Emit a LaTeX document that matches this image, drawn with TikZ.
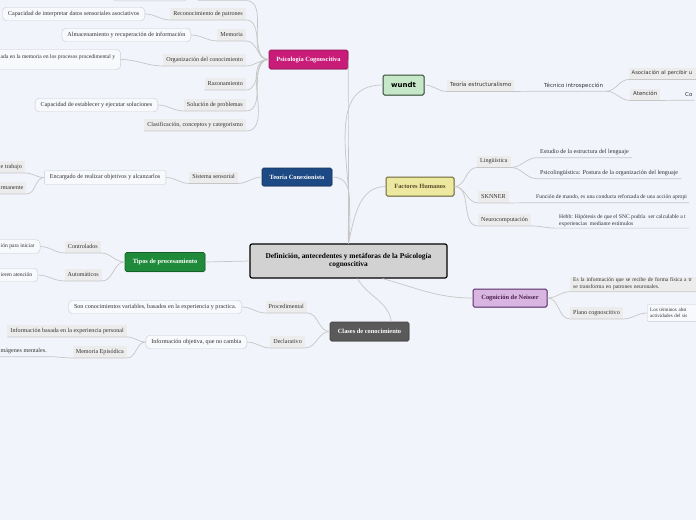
\documentclass[tikz,border=0pt]{standalone}
\usepackage{fontspec}
\setmainfont{Liberation Serif}
\newfontfamily\wsans{DejaVu Sans}
\usetikzlibrary{positioning,shadows}

\definecolor{bgcol}{HTML}{F2F4FB}
\definecolor{linecol}{HTML}{C6C6C6}
\definecolor{subcol}{HTML}{ECECEC}
\definecolor{leafcol}{HTML}{C9CCD6}
\definecolor{leaffill}{HTML}{F8F9FD}
\definecolor{txtcol}{HTML}{333333}
\definecolor{magcol}{HTML}{C91B78}
\definecolor{navycol}{HTML}{1D4A85}
\definecolor{greencol}{HTML}{1E8A3A}
\definecolor{graycol}{HTML}{5A5A5A}
\definecolor{wgreen}{HTML}{C6E7C8}
\definecolor{wborder}{HTML}{2F4A33}
\definecolor{ycol}{HTML}{EDE89F}
\definecolor{yborder}{HTML}{6A6536}
\definecolor{ytext}{HTML}{5A4A2A}
\definecolor{pcol}{HTML}{D9B5E1}
\definecolor{pborder}{HTML}{5A2D6A}
\definecolor{ptext}{HTML}{4A2050}
\definecolor{rootcol}{HTML}{D2D2D2}

\newcommand\mmfs{\fontsize{6.1}{7.1}\selectfont}
\newcommand\edgefs{\fontsize{5.6}{6.8}\selectfont}
\newcommand\topfs{\fontsize{6.4}{7.4}\selectfont\bfseries}
\newcommand\wfs{\wsans\fontsize{5.5}{6.5}\selectfont}

\begin{document}
\begin{tikzpicture}[
  x=1pt,y=-1pt,
  conn/.style={draw=linecol,line width=0.7pt},
  lft/.style={out=180,in=0},
  rgt/.style={out=0,in=180},
  root/.style={draw=black,line width=1.2pt,rounded corners=2pt,fill=rootcol,align=center,
               minimum width=197pt,minimum height=34pt,font=\fontsize{7.4}{8.4}\selectfont\bfseries},
  topic/.style={rounded corners=1.5pt,minimum height=19pt,inner xsep=4pt,line width=0.6pt,
                font=\topfs,text=white,
                drop shadow={shadow xshift=0.6pt,shadow yshift=-0.8pt,opacity=0.3}},
  sub/.style={fill=subcol,inner xsep=3pt,inner ysep=1.5pt,minimum height=11.5pt,
              text height=4.3pt,text depth=1.4pt,font=\mmfs,text=txtcol},
  leaf/.style={draw=leafcol,fill=leaffill,rounded corners=4pt,inner xsep=5.5pt,minimum height=13.5pt,
               font=\mmfs,text=txtcol},
  plain/.style={inner xsep=3pt,inner ysep=1.5pt,minimum height=11pt,font=\mmfs,text=txtcol}
]
\useasboundingbox (0,0) rectangle (696,520);
\fill[bgcol] (0,0) rectangle (696,520);

% centre
\node[root] (root) at (348.5,261) {Definición, antecedentes y metáforas de la Psicología\\cognoscitiva};

% main topics
\node[topic,fill=magcol,draw=magcol!70!black,minimum width=79pt] (psic) at (308.5,59.5) {Psicología Cognoscitiva};
\node[topic,fill=wgreen,draw=wborder,line width=1pt,text=black,minimum width=41pt,minimum height=20pt,
      font=\wsans\fontsize{7}{8}\selectfont\bfseries] (wundt) at (403.5,85) {wundt};
\node[topic,fill=navycol,draw=navycol!70!black,minimum width=70pt,minimum height=18pt] (tcon) at (297,177) {Teoría Conexionista};
\node[topic,fill=ycol,draw=yborder,line width=1pt,text=ytext,minimum width=68pt] (fact) at (420,186.5) {Factores Humanos};
\node[topic,fill=greencol,draw=greencol!70!black,minimum width=80pt] (tipos) at (165,262) {Tipos de procesamiento};
\node[topic,fill=pcol,draw=pborder,line width=1pt,text=ptext,minimum width=74pt,minimum height=18pt] (neis) at (510,298) {Cognición de Neisser};
\node[topic,fill=graycol,draw=graycol!70!black,minimum width=79pt] (clases) at (369.5,331.5) {Clases de conocimiento};

\draw[conn] (root.north) -- (psic.east);
\draw[conn] (root.north) to[out=95,in=0] (tcon.east);
\draw[conn] (root.north) to[out=82,in=180] (wundt.west);
\draw[conn] (root.north) to[out=78,in=180] (fact.west);
\draw[conn] (root.west) -- (tipos.east);
\draw[conn] ([xshift=34pt]root.south) to[out=-15,in=180] (neis.west);
\draw[conn] ([xshift=9pt]root.south) to[out=-60,in=100] ([xshift=22pt]clases.north);

% Psicologia Cognoscitiva
\node[sub,anchor=east] (recon) at (246,14) {Reconocimiento de patrones};
\node[sub,anchor=east] (memo) at (246,35) {Memoria};
\node[sub,anchor=east] (organ) at (246,60) {Organización del conocimiento};
\node[sub,anchor=east] (razon) at (246,84) {Razonamiento};
\node[sub,anchor=east] (soluc) at (246,105) {Solución de problemas};
\node[sub,anchor=east] (clasif) at (246,125) {Clasificación, conceptos y categorismo};
\node[leaf,anchor=east] (interp) at (145,14) {Capacidad de interpretar datos sensoriales asociativos};
\node[leaf,anchor=east] (almac) at (191,35) {Almacenamiento y recuperación de información};
\node[leaf,anchor=west,minimum height=20pt,align=left,font=\edgefs] (memproc) at (-5,59.5) {ada en la memoria en los procesos procedimental y\\\mbox{}};
\node[leaf,anchor=east] (establ) at (158,105) {Capacidad de establecer y ejecutar soluciones};
\coordinate (cutsub) at (246,0.6);
\coordinate (cutsubw) at (198,0.6);
\draw[conn] (psic.west) to[lft] (cutsub) -- (cutsubw);
\draw[leafcol,rounded corners=4pt] (112,-15) -- (112,0.8) -- (188,0.8) -- (188,-15);
\draw[conn] (psic.west) to[lft] (recon.south east) -- (recon.south west) to[lft] (interp.east);
\draw[conn] (psic.west) to[lft] (memo.south east) -- (memo.south west) to[lft] (almac.east);
\draw[conn] (psic.west) to[lft] (organ.south east) -- (organ.south west) to[lft] (memproc.east);
\draw[conn] (psic.west) to[lft] (razon.south east) -- (razon.south west);
\draw[conn] (psic.west) to[lft] (soluc.south east) -- (soluc.south west) to[lft] (establ.east);
\draw[conn] (psic.west) to[lft] (clasif.south east) -- (clasif.south west);

% Teoria Conexionista
\node[sub,anchor=east] (sens) at (238,177.5) {Sistema sensorial};
\node[leaf,anchor=east,rounded corners=1pt] (encar) at (166,177.5) {Encargado de realizar objetivos y alcanzarlos};
\node[sub,anchor=west] (trab) at (-2.5,167) {e trabajo};
\node[sub,anchor=west] (perm) at (-2.5,188) {rmanente};
\draw[conn] (tcon.west) to[lft] (sens.south east) -- (sens.south west) to[lft] (encar.east);
\draw[conn] (encar.west) to[lft] (trab.south east) -- (trab.south west);
\draw[conn] (encar.west) to[lft] (perm.south east) -- (perm.south west);

% Tipos de procesamiento
\node[sub,anchor=east] (contr) at (101,247) {Controlados};
\node[sub,anchor=east] (autom) at (102,275) {Automáticos};
\node[leaf,anchor=west,font=\edgefs] (inic) at (-5,246.5) {ión para iniciar};
\node[leaf,anchor=west,font=\edgefs] (atenc) at (-5,275) {ieren atención};
\draw[conn] (tipos.west) to[lft] (contr.south east) -- (contr.south west) to[lft] (inic.east);
\draw[conn] (tipos.west) to[lft] (autom.south east) -- (autom.south west) to[lft] (atenc.east);

% Clases de conocimiento
\node[sub,anchor=east] (proced) at (307,307) {Procedimental};
\node[sub,anchor=east] (declar) at (305,342) {Declarativo};
\node[leaf,anchor=east] (sonc) at (242,307) {Son conocimientos variables, basados en la experiencia y practica.};
\node[leaf,anchor=east] (infobj) at (247,342) {Información objetiva, que no cambia};
\node[sub,anchor=east] (infbas) at (127,331) {Información basada en la experiencia personal};
\node[sub,anchor=east] (memep) at (127,352) {Memoria Episódica};
\node[plain,anchor=west] (imag) at (-2.5,351) {mágenes mentales.};
\draw[conn] (clases.west) to[lft] (proced.south east) -- (proced.south west) to[lft] (sonc.east);
\draw[conn] (clases.west) to[lft] (declar.south east) -- (declar.south west) to[lft] (infobj.east);
\draw[conn] (infobj.west) to[lft] (infbas.south east) -- (infbas.south west);
\draw[conn] (infobj.west) to[lft] (memep.south east) -- (memep.south west) to[lft] (imag.south east) -- (imag.south west);

% wundt
\node[sub,font=\wfs,anchor=west] (estr) at (447,85.5) {Teoría estructuralismo};
\node[plain,font=\wfs,anchor=west] (tecn) at (541,85.5) {Técnico introspección};
\node[sub,font=\wsans\fontsize{5.2}{6.2}\selectfont,anchor=west,inner xsep=2.5pt,text width=70pt,align=left] (asoc) at (629,73.5) {Asociación al percibir u};
\node[sub,font=\wfs,anchor=west] (atenw) at (630,94.5) {Atención};
\node[plain,font=\wfs,anchor=west,inner xsep=2pt] (co) at (683,94.5) {Co};
\draw[conn] (wundt.east) to[rgt] (estr.south west) -- (estr.south east) -- (tecn.south west) -- (tecn.south east)
            to[rgt] (asoc.south west) -- (asoc.south east);
\draw[conn] (tecn.south east) to[rgt] (atenw.south west) -- (atenw.south east) -- (co.south west) -- (co.south east);

% Factores Humanos
\node[sub,anchor=west] (ling) at (477,161.5) {Lingüística};
\node[sub,anchor=west] (skn) at (478,197) {SKNNER};
\node[sub,anchor=west] (neuro) at (478,220) {Neurocomputación};
\node[plain,anchor=west] (estud) at (537,152) {Estudio de la estructura del lenguaje};
\node[plain,anchor=west] (psico) at (537,173) {Psicolingüística: Postura de la organización del lenguaje};
\node[plain,anchor=west,font=\edgefs,inner xsep=2pt] (func) at (534,197) {Función de mando, es una conducta reforzada de una acción apropi};
\node[plain,anchor=west,align=left,font=\edgefs] (hebb) at (556,220.5) {Hebb: Hipótesis de que el SNC podría \ ser calculable a t\\experiencias \ mediante estímulos};
\draw[conn] (fact.east) to[rgt] (ling.south west) -- (ling.south east) to[rgt] (estud.south west) -- (estud.south east);
\draw[conn] (ling.south east) to[rgt] (psico.south west) -- (psico.south east);
\draw[conn] (fact.east) to[rgt] (skn.south west) -- (skn.south east) -- (func.south west) -- (func.south east);
\draw[conn] (fact.east) to[rgt] (neuro.south west) -- (neuro.south east) to[rgt] (hebb.south west) -- (hebb.south east);

% Cognicion de Neisser
\node[sub,anchor=west,align=left,text height=,text depth=,text width=132pt,font=\edgefs] (esinf) at (570,284) {Es la información que se recibe de forma física a tr\\se transforma en patrones neuronales.};
\node[sub,anchor=west] (plano) at (570,313) {Plano cognoscitivo};
\node[leaf,anchor=west,align=left,rounded corners=1pt,inner xsep=3pt,text width=54pt,
      font=\fontsize{5}{6.4}\selectfont] (terms) at (647,313) {Los términos abst\\actividades del sis};
\draw[conn] (neis.east) to[rgt] (esinf.south west) -- (esinf.south east);
\draw[conn] (neis.east) to[rgt] (plano.south west) -- (plano.south east) to[rgt] (terms.west);
\end{tikzpicture}
\end{document}
